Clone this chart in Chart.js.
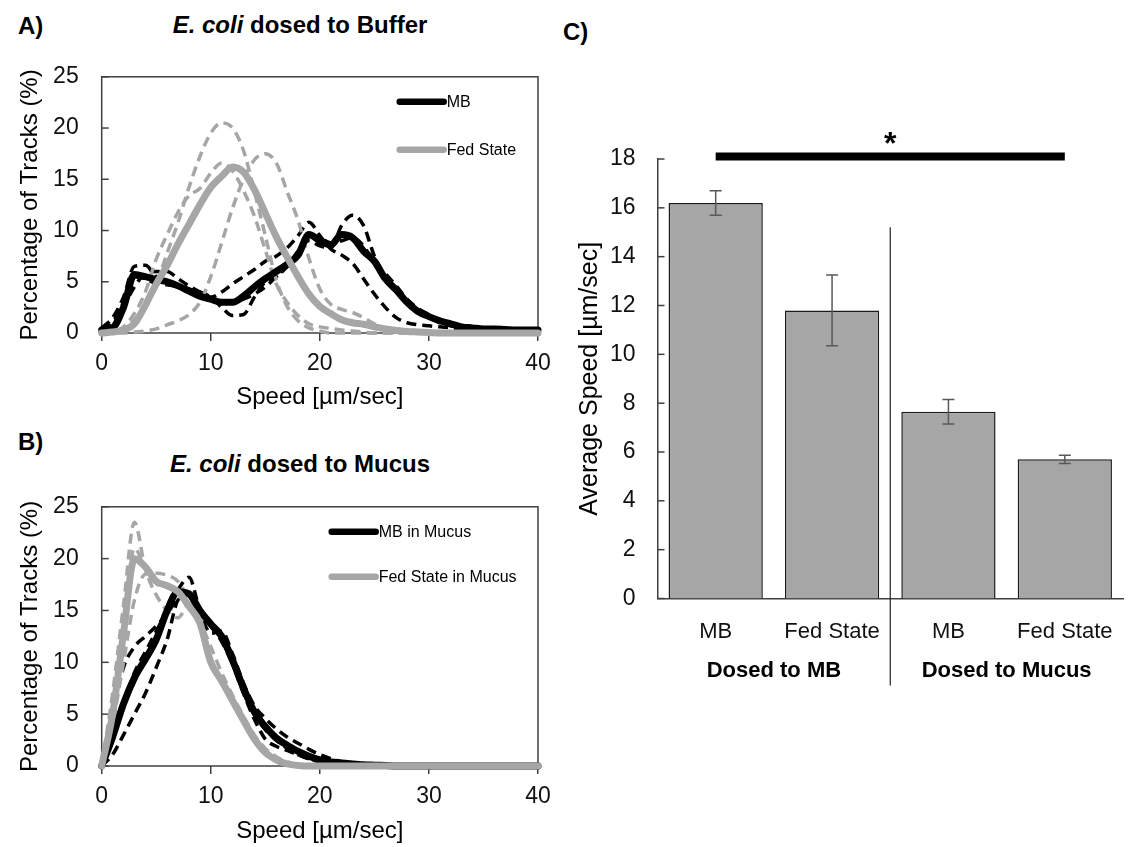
<!DOCTYPE html>
<html>
<head>
<meta charset="utf-8">
<script src="https://cdn.jsdelivr.net/npm/chart.js@4.4.1/dist/chart.umd.min.js"></script>
<style>
  html, body { margin: 0; padding: 0; background: #fff; }
  body { width: 1136px; height: 847px; position: relative; overflow: hidden; font-family: "Liberation Sans", Arial, sans-serif; }
  canvas { position: absolute; }
  .lbl { position: absolute; font-weight: bold; font-size: 24px; line-height: 1; white-space: nowrap; color: #000; }
  .ttl { transform: translateX(-50%); }
</style>
</head>
<body>
<div class="lbl" style="left:18px;top:14px">A)</div>
<div class="lbl ttl" style="left:300px;top:13px"><i>E. coli</i> dosed to Buffer</div>
<div class="lbl" style="left:18px;top:430px">B)</div>
<div class="lbl ttl" style="left:300px;top:452px"><i>E. coli</i> dosed to Mucus</div>
<div class="lbl" style="left:563px;top:20px">C)</div>

<canvas id="cA" width="560" height="373" style="left:0;top:40px"></canvas>
<canvas id="cB" width="560" height="377" style="left:0;top:470px"></canvas>
<canvas id="cC" width="596" height="620" style="left:540px;top:100px"></canvas>

<script>
// ---------- DATA ----------
const speed = [0,1,2,3,4,5,6,7,8,9,10,11,12,13,14,15,16,17,18,19,20,21,22,23,24,25,26,27,28,29,30,31,32,33,34,35,36,37,38,39,40];
const speedTicks = [0,10,20,30,40];
const pctTicks = [0,5,10,15,20,25];

// Panel A: E. coli dosed to Buffer
const bufMB    = [0.3,0.5,2.5,5.7,5.5,5.2,5.0,4.6,4.1,3.6,3.3,3.0,3.0,3.6,4.5,5.3,6.0,6.7,7.6,9.6,9.0,8.6,9.6,9.3,8.0,7.0,5.3,4.2,3.0,2.1,1.6,1.2,0.9,0.6,0.5,0.4,0.4,0.35,0.3,0.3,0.3];
const bufMBr1  = [0.5,1.5,3.5,6.5,6.6,5.5,5.0,4.6,4.3,4.0,3.5,2.5,1.7,1.8,3.5,5.0,5.5,6.5,8.0,9.0,8.5,8.3,10.5,11.5,10.5,7.5,5.5,4.0,3.0,2.0,1.5,1.0,0.7,0.5,0.4,0.35,0.3,0.3,0.25,0.2,0.2];
const bufMBr2  = [0.2,0.5,2.5,4.5,5.8,6.0,6.0,5.3,4.6,4.0,3.5,4.0,4.8,5.5,6.2,7.0,7.5,8.3,9.5,10.8,9.5,8.2,7.6,6.8,5.3,3.8,2.5,1.5,1.0,0.8,0.7,0.6,0.5,0.4,0.35,0.3,0.3,0.25,0.2,0.2,0.2];
const bufMBr3  = [0.5,1.0,3.0,5.5,5.3,4.8,4.7,4.5,4.0,3.5,3.2,3.0,3.0,3.3,3.8,4.5,5.5,6.5,7.5,9.5,9.3,8.8,9.0,9.3,8.5,6.8,5.8,4.6,3.3,2.4,1.8,1.2,0.8,0.6,0.5,0.4,0.35,0.3,0.25,0.2,0.2];
const bufFed   = [0,0.1,0.3,0.9,2.7,4.8,6.6,8.7,10.6,12.5,14.2,15.3,16.2,15.7,14.0,11.7,9.4,7.4,5.5,3.8,2.6,1.9,1.3,1.0,0.85,0.6,0.4,0.25,0.15,0.1,0.05,0,0,0,0,0,0,0,0,0,0];
const bufFedR1 = [0,0.1,0.5,1.3,2.8,4.8,7.8,10.8,14.2,17.2,19.5,20.5,20.0,17.8,13.8,9.5,5.2,2.6,1.2,0.5,0.2,0,0,0,0,0,0,0,0,0,0,0,0,0,0,0,0,0,0,0,0];
const bufFedR2 = [0,0,0,0.1,0.2,0.4,0.8,1.2,1.8,3.0,5.5,8.8,12.2,15.0,16.9,17.5,16.6,13.8,11.0,7.3,4.3,2.8,2.3,2.0,1.5,0.9,0.5,0.25,0.1,0,0,0,0,0,0,0,0,0,0,0,0];
const bufFedR3 = [0,0.1,0.6,1.9,4.0,7.2,9.6,11.8,13.4,14.1,15.6,16.6,15.8,13.9,11.4,8.1,4.8,3.0,1.7,0.9,0.6,0.45,0.3,0.2,0.1,0,0,0,0,0,0,0,0,0,0,0,0,0,0,0,0];

// Panel B: E. coli dosed to Mucus
const mucMB    = [0,2.8,6.0,8.5,10.3,12.2,15.0,16.8,16.6,15.0,13.7,12.5,10.2,7.5,5.2,3.8,2.7,2.0,1.4,0.95,0.6,0.4,0.3,0.2,0.12,0.08,0.05,0,0,0,0,0,0,0,0,0,0,0,0,0,0];
const mucMBr1  = [0,2.5,6.0,9.0,11.0,13.0,15.0,17.0,18.2,15.0,12.8,13.0,10.8,8.0,5.8,4.6,3.6,2.8,2.2,1.6,1.1,0.7,0.4,0.2,0.1,0,0,0,0,0,0,0,0,0,0,0,0,0,0,0,0];
const mucMBr2  = [0,1.1,3.0,5.0,7.0,9.5,12.2,16.0,16.5,15.0,13.8,12.2,9.8,7.0,4.5,2.6,1.9,1.5,1.1,0.7,0.4,0.25,0.1,0,0,0,0,0,0,0,0,0,0,0,0,0,0,0,0,0,0];
const mucMBr3  = [0,5.0,9.5,11.5,12.5,13.5,14.7,16.2,16.6,15.2,13.5,12.0,9.8,7.2,5.0,3.5,2.5,1.7,1.1,0.7,0.4,0.2,0.1,0,0,0,0,0,0,0,0,0,0,0,0,0,0,0,0,0,0];
const mucFed   = [0,5.0,12.8,20.0,19.2,17.8,17.4,16.8,15.4,13.8,10.0,8.2,6.3,4.4,2.6,1.3,0.6,0.2,0.05,0,0,0,0,0,0,0,0,0,0,0,0,0,0,0,0,0,0,0,0,0,0];
const mucFedR1 = [0,7.0,15.5,23.5,19.0,16.5,15.0,14.3,15.6,13.6,10.3,8.3,6.4,4.5,2.7,1.4,0.7,0.25,0.05,0,0,0,0,0,0,0,0,0,0,0,0,0,0,0,0,0,0,0,0,0,0];
const mucFedR2 = [0,4.0,10.0,16.0,18.5,18.6,18.4,17.8,16.0,14.0,11.5,9.0,6.8,4.8,3.0,1.7,0.9,0.4,0.1,0,0,0,0,0,0,0,0,0,0,0,0,0,0,0,0,0,0,0,0,0,0];
const mucFedR3 = [0,5.5,13.5,21.0,19.0,17.6,17.2,16.6,15.5,13.5,10.2,8.4,6.5,4.6,2.8,1.5,0.7,0.3,0.1,0,0,0,0,0,0,0,0,0,0,0,0,0,0,0,0,0,0,0,0,0,0];

const legendA = ['MB', 'Fed State'];
const legendB = ['MB in Mucus', 'Fed State in Mucus'];

// Panel C: average speed
const barCats   = ['MB', 'Fed State', 'MB', 'Fed State'];
const barGroups = ['Dosed to MB', 'Dosed to Mucus'];
const avgSpeed  = [16.2, 11.8, 7.65, 5.7];
const avgErr    = [0.5, 1.45, 0.5, 0.17];
const speedAxisTicks = [0,2,4,6,8,10,12,14,16,18];
const sigLevel  = 18.1;
const sigMark   = '*';

// ---------- STYLE ----------
const F = '"Liberation Sans", Arial, Helvetica, sans-serif';
const BLACK = '#000000';
const GREY = '#a6a6a6';
const AXIS = '#404040';

function pts(vals) { return vals.map((v, i) => ({ x: speed[i], y: v })); }

function thick(label, vals, color, order) {
  return { label, data: pts(vals), borderColor: color, borderWidth: 7, pointRadius: 0,
    cubicInterpolationMode: 'monotone', borderCapStyle: 'round', borderJoinStyle: 'round',
    fill: false, clip: false, order };
}
function dashed(label, vals, color, order) {
  return { label, data: pts(vals), borderColor: color, borderWidth: 3.5, borderDash: [10, 6], pointRadius: 0,
    cubicInterpolationMode: 'monotone', borderJoinStyle: 'round', fill: false, clip: false, order };
}

const framePlugin = {
  id: 'frameBox',
  beforeDatasetsDraw(c) {
    const a = c.chartArea, ctx = c.ctx;
    ctx.save();
    ctx.strokeStyle = AXIS; ctx.lineWidth = 1.5;
    ctx.strokeRect(a.left, a.top, a.right - a.left, a.bottom - a.top);
    ctx.restore();
  }
};

function inwardTicks(len) {
  return {
    id: 'inwardTicks',
    beforeDatasetsDraw(c) {
      const y = c.scales.y, ctx = c.ctx, a = c.chartArea;
      ctx.save();
      ctx.strokeStyle = AXIS; ctx.lineWidth = 1.5;
      y.ticks.forEach(t => {
        const p = y.getPixelForValue(t.value);
        ctx.beginPath(); ctx.moveTo(a.left, p); ctx.lineTo(a.left + len, p); ctx.stroke();
      });
      ctx.restore();
    }
  };
}

function legendPlugin(items, colors, dx, dys) {
  return {
    id: 'innerLegend',
    afterDraw(c) {
      const a = c.chartArea, ctx = c.ctx;
      ctx.save();
      items.forEach((txt, i) => {
        const y = a.top + dys[i];
        ctx.strokeStyle = colors[i]; ctx.lineWidth = 6.5; ctx.lineCap = 'round';
        ctx.beginPath(); ctx.moveTo(a.left + dx, y); ctx.lineTo(a.left + dx + 44, y); ctx.stroke();
        ctx.fillStyle = '#000'; ctx.font = '16px ' + F; ctx.textBaseline = 'middle'; ctx.textAlign = 'left';
        ctx.fillText(txt, a.left + dx + 47, y + 1);
      });
      ctx.restore();
    }
  };
}

function lineOptions(yTitle, topPad, xHeight) {
  return {
    responsive: false, animation: false, devicePixelRatio: 1,
    layout: { padding: { top: topPad, right: 22, left: 0, bottom: 0 } },
    plugins: { legend: { display: false }, tooltip: { enabled: false } },
    scales: {
      x: {
        type: 'linear', min: 0, max: 40,
        afterBuildTicks: s => { s.ticks = speedTicks.map(v => ({ value: v })); },
        ticks: { font: { size: 23, family: F }, color: '#111', padding: 9, maxRotation: 0 },
        grid: { display: true, drawOnChartArea: false, drawTicks: true, tickLength: 8, color: AXIS, lineWidth: 1.5 },
        border: { display: false },
        title: { display: true, text: 'Speed [µm/sec]', color: '#000', font: { size: 24, family: F }, padding: { top: 0, bottom: 1 } },
        afterFit: s => { s.height = xHeight; }
      },
      y: {
        min: 0, max: 25,
        afterBuildTicks: s => { s.ticks = pctTicks.map(v => ({ value: v })); },
        ticks: { font: { size: 23, family: F }, color: '#111', padding: 23 },
        grid: { display: false, drawTicks: false },
        border: { display: false },
        title: { display: true, text: yTitle, color: '#000', font: { size: 24, family: F }, padding: { top: 16, bottom: 0 } },
        afterFit: s => { s.width = 101.7; }
      }
    }
  };
}

// ---------- PANEL A ----------
new Chart(document.getElementById('cA'), {
  type: 'line',
  data: {
    datasets: [
      thick(legendA[1], bufFed, GREY, 0),
      thick(legendA[0], bufMB, BLACK, 1),
      dashed('Fed State rep 1', bufFedR1, GREY, 2),
      dashed('Fed State rep 2', bufFedR2, GREY, 2),
      dashed('Fed State rep 3', bufFedR3, GREY, 2),
      dashed('MB rep 1', bufMBr1, BLACK, 3),
      dashed('MB rep 2', bufMBr2, BLACK, 3),
      dashed('MB rep 3', bufMBr3, BLACK, 3)
    ]
  },
  options: lineOptions('Percentage of Tracks (%)', 18, 80),
  plugins: [framePlugin, inwardTicks(7), legendPlugin(legendA, [BLACK, GREY], 298, [25, 73])]
});

// ---------- PANEL B ----------
new Chart(document.getElementById('cB'), {
  type: 'line',
  data: {
    datasets: [
      thick(legendB[1], mucFed, GREY, 0),
      thick(legendB[0], mucMB, BLACK, 1),
      dashed('Fed State in Mucus rep 1', mucFedR1, GREY, 2),
      dashed('Fed State in Mucus rep 2', mucFedR2, GREY, 2),
      dashed('Fed State in Mucus rep 3', mucFedR3, GREY, 2),
      dashed('MB in Mucus rep 1', mucMBr1, BLACK, 3),
      dashed('MB in Mucus rep 2', mucMBr2, BLACK, 3),
      dashed('MB in Mucus rep 3', mucMBr3, BLACK, 3)
    ]
  },
  options: lineOptions('Percentage of Tracks (%)', 23, 81),
  plugins: [framePlugin, inwardTicks(7), legendPlugin(legendB, [BLACK, GREY], 230, [25, 70])]
});

// ---------- PANEL C ----------
const barExtras = {
  id: 'barExtras',
  afterDatasetsDraw(c) {
    const ctx = c.ctx, x = c.scales.x, y = c.scales.y, a = c.chartArea;
    ctx.save();
    // error bars
    ctx.strokeStyle = '#595959'; ctx.lineWidth = 1.5;
    avgSpeed.forEach((v, i) => {
      const px = x.getPixelForValue(i);
      const hi = y.getPixelForValue(v + avgErr[i]), lo = y.getPixelForValue(v - avgErr[i]);
      ctx.beginPath();
      ctx.moveTo(px, hi); ctx.lineTo(px, lo);
      ctx.moveTo(px - 6, hi); ctx.lineTo(px + 6, hi);
      ctx.moveTo(px - 6, lo); ctx.lineTo(px + 6, lo);
      ctx.stroke();
    });
    // group separator
    const sx = x.getPixelForValue(1.5);
    ctx.strokeStyle = '#222'; ctx.lineWidth = 1.2;
    ctx.beginPath(); ctx.moveTo(sx, y.getPixelForValue(15.2)); ctx.lineTo(sx, a.bottom + 87); ctx.stroke();
    // group labels
    ctx.fillStyle = '#000'; ctx.font = 'bold 22px ' + F; ctx.textAlign = 'center'; ctx.textBaseline = 'middle';
    ctx.fillText(barGroups[0], x.getPixelForValue(0.5), a.bottom + 72);
    ctx.fillText(barGroups[1], x.getPixelForValue(2.5), a.bottom + 72);
    // significance bar
    const sy = y.getPixelForValue(sigLevel);
    ctx.strokeStyle = '#000'; ctx.lineWidth = 8; ctx.lineCap = 'butt';
    ctx.beginPath(); ctx.moveTo(x.getPixelForValue(0), sy); ctx.lineTo(x.getPixelForValue(3), sy); ctx.stroke();
    ctx.font = 'bold 32px ' + F; ctx.textBaseline = 'alphabetic';
    ctx.fillText(sigMark, x.getPixelForValue(1.5), sy - 3);
    ctx.restore();
  }
};

new Chart(document.getElementById('cC'), {
  type: 'bar',
  data: {
    labels: barCats,
    datasets: [{
      label: 'Average Speed', data: avgSpeed,
      backgroundColor: '#a6a6a6', borderColor: '#1a1a1a', borderWidth: 1.5, borderSkipped: 'bottom',
      barPercentage: 0.81, categoryPercentage: 1.0
    }]
  },
  options: {
    responsive: false, animation: false, devicePixelRatio: 1,
    layout: { padding: { top: 59, right: 13, left: 0, bottom: 0 } },
    plugins: { legend: { display: false }, tooltip: { enabled: false } },
    scales: {
      x: {
        ticks: { font: { size: 22, family: F }, color: '#111', padding: 20, maxRotation: 0, autoSkip: false },
        grid: { display: false, drawTicks: false },
        border: { display: true, color: AXIS, width: 1.5 },
        afterFit: s => { s.height = 121.5; }
      },
      y: {
        min: 0, max: 18,
        afterBuildTicks: s => { s.ticks = speedAxisTicks.map(v => ({ value: v })); },
        ticks: { font: { size: 23, family: F }, color: '#111', padding: 22 },
        grid: { display: false, drawTicks: false },
        border: { display: true, color: AXIS, width: 1.5 },
        title: { display: true, text: 'Average Speed [µm/sec]', color: '#000', font: { size: 25, family: F }, padding: { top: 35, bottom: 0 } },
        afterFit: s => { s.width = 117.5; }
      }
    }
  },
  plugins: [inwardTicks(7), barExtras]
});
</script>
</body>
</html>
